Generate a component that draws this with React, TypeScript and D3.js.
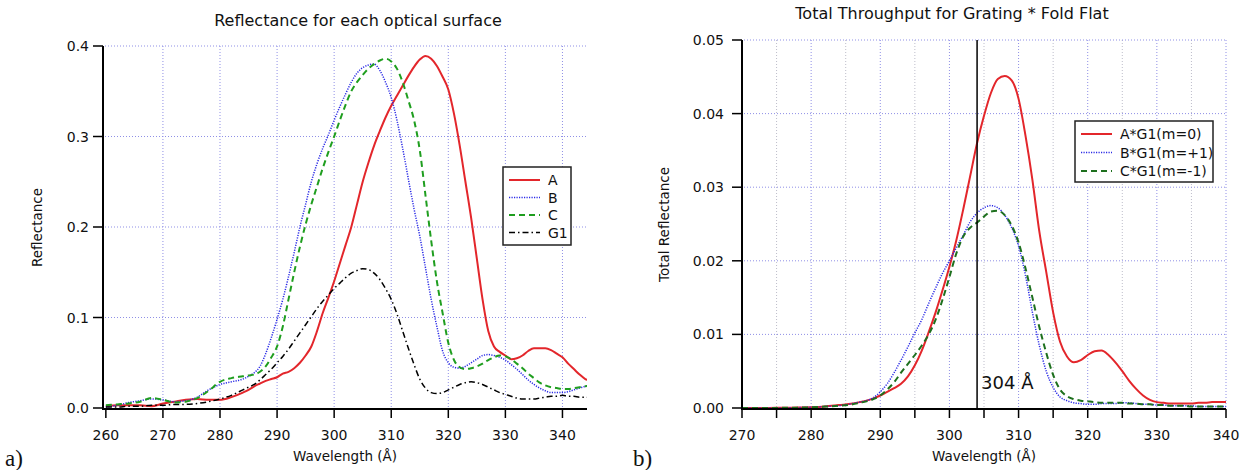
import * as d3 from 'd3';

// ---- panel a) reflectance of each surface ----
const waveLeft = [260, 262, 264, 266, 268, 270, 272, 274, 276, 278, 280, 282, 284,
  285, 286, 287, 288, 289, 290, 291, 292, 293, 294, 295, 296, 297, 298, 299, 300,
  301, 302, 303, 304, 305, 306, 307, 308, 309, 310, 311, 312, 313, 314, 315, 316,
  317, 318, 319, 320, 321, 322, 323, 324, 325, 326, 327, 328, 329, 330, 331, 332,
  333, 334, 335, 336, 337, 338, 339, 340, 341, 342, 343, 344, 345];

const reflA = [0.002, 0.003, 0.003, 0.003, 0.002, 0.005, 0.007, 0.009, 0.010, 0.009, 0.009, 0.012, 0.017,
  0.020, 0.024, 0.027, 0.030, 0.032, 0.034, 0.038, 0.040, 0.044, 0.050, 0.058, 0.068, 0.085, 0.105, 0.122, 0.140,
  0.160, 0.180, 0.200, 0.225, 0.250, 0.271, 0.290, 0.306, 0.321, 0.334, 0.345, 0.356, 0.367, 0.377, 0.385, 0.389,
  0.386, 0.378, 0.366, 0.352, 0.325, 0.290, 0.250, 0.210, 0.165, 0.120, 0.085, 0.068, 0.062, 0.058, 0.054, 0.055,
  0.058, 0.063, 0.066, 0.066, 0.066, 0.064, 0.060, 0.056, 0.049, 0.043, 0.037, 0.032, 0.030];

const reflB = [0.001, 0.003, 0.006, 0.008, 0.010, 0.009, 0.007, 0.008, 0.012, 0.020, 0.026, 0.029, 0.032,
  0.035, 0.039, 0.046, 0.060, 0.078, 0.098, 0.120, 0.145, 0.172, 0.200, 0.225, 0.250, 0.270, 0.287, 0.302, 0.318,
  0.333, 0.347, 0.360, 0.370, 0.376, 0.379, 0.380, 0.373, 0.360, 0.343, 0.318, 0.287, 0.253, 0.220, 0.190, 0.155,
  0.120, 0.090, 0.063, 0.050, 0.045, 0.044, 0.046, 0.050, 0.054, 0.058, 0.059, 0.058, 0.056, 0.053, 0.048, 0.043,
  0.037, 0.031, 0.026, 0.022, 0.019, 0.017, 0.017, 0.017, 0.018, 0.020, 0.022, 0.024, 0.025];

const reflC = [0.003, 0.004, 0.005, 0.007, 0.011, 0.009, 0.006, 0.007, 0.011, 0.019, 0.029, 0.033, 0.035,
  0.036, 0.037, 0.040, 0.046, 0.056, 0.068, 0.090, 0.120, 0.150, 0.178, 0.203, 0.225, 0.245, 0.265, 0.283, 0.300,
  0.318, 0.335, 0.350, 0.360, 0.368, 0.375, 0.380, 0.384, 0.386, 0.383, 0.375, 0.360, 0.340, 0.318, 0.285, 0.235,
  0.185, 0.140, 0.105, 0.072, 0.053, 0.045, 0.043, 0.044, 0.046, 0.049, 0.053, 0.056, 0.058, 0.057, 0.054, 0.049,
  0.044, 0.038, 0.033, 0.028, 0.025, 0.023, 0.022, 0.021, 0.021, 0.022, 0.023, 0.024, 0.025];

const reflG1 = [0.001, 0.001, 0.002, 0.002, 0.003, 0.003, 0.004, 0.004, 0.005, 0.007, 0.010, 0.014, 0.020,
  0.023, 0.026, 0.031, 0.037, 0.043, 0.050, 0.057, 0.065, 0.074, 0.083, 0.092, 0.101, 0.110, 0.118, 0.125, 0.132,
  0.138, 0.144, 0.149, 0.152, 0.154, 0.153, 0.149, 0.142, 0.132, 0.120, 0.104, 0.085, 0.066, 0.048, 0.032, 0.022,
  0.017, 0.016, 0.017, 0.020, 0.023, 0.026, 0.028, 0.029, 0.028, 0.026, 0.023, 0.020, 0.017, 0.015, 0.013, 0.011,
  0.010, 0.010, 0.010, 0.011, 0.012, 0.013, 0.013, 0.014, 0.013, 0.013, 0.012, 0.012, 0.011];

const leftXTicks = [260, 270, 280, 290, 300, 310, 320, 330, 340];
const leftYTicks = [0, 0.1, 0.2, 0.3, 0.4];

// ---- panel b) total throughput ----
const waveRight = [270, 272, 274, 276, 278, 280, 282, 284, 286,
  287, 288, 289, 290, 291, 292, 293, 294, 295, 296, 297, 298, 299, 300, 301, 302,
  303, 304, 305, 306, 307, 308, 309, 310, 311, 312, 313, 314, 315, 316, 317, 318,
  319, 320, 321, 322, 323, 324, 325, 326, 327, 328, 329, 330, 331, 332, 333, 334,
  335, 336, 337, 338, 339, 340];

const tputA = [0, 0, 0.00001, 0.00003, 0.00006, 0.0001, 0.0002, 0.0004, 0.0006,
  0.0008, 0.001, 0.0013, 0.0017, 0.0022, 0.0027, 0.0033, 0.0043, 0.0058, 0.0078, 0.0103, 0.013, 0.016, 0.0192,
  0.0228, 0.027, 0.0315, 0.036, 0.0397, 0.0428, 0.0447, 0.0451, 0.0445, 0.042, 0.037, 0.031, 0.024, 0.0185,
  0.013, 0.009, 0.007, 0.0062, 0.0065, 0.0072, 0.0077, 0.0078, 0.0072, 0.0062, 0.005, 0.0037, 0.0026, 0.0017,
  0.0011, 0.0008, 0.0007, 0.0006, 0.0006, 0.0006, 0.0006, 0.0007, 0.0007, 0.0008, 0.0008, 0.0008];

const tputB = [0, 0, 0.00001, 0.00002, 0.00005, 0.0001, 0.0002, 0.0003, 0.0006,
  0.0008, 0.001, 0.0014, 0.0022, 0.0033, 0.0048, 0.0065, 0.0083, 0.0102, 0.012, 0.0142, 0.0163, 0.0183, 0.02,
  0.0218, 0.0235, 0.0253, 0.0265, 0.0272, 0.0275, 0.0272, 0.0262, 0.0245, 0.022, 0.018, 0.013, 0.0085, 0.005,
  0.0028, 0.0015, 0.001, 0.0007, 0.0006, 0.0005, 0.0005, 0.0006, 0.0006, 0.0006, 0.0007, 0.0007, 0.0006, 0.0005,
  0.0005, 0.0004, 0.0004, 0.0003, 0.0003, 0.0003, 0.0003, 0.0002, 0.0002, 0.0002, 0.0002, 0.0002];

const tputC = [0, 0, 0.00001, 0.00002, 0.00005, 0.0001, 0.0002, 0.0003, 0.0005,
  0.0007, 0.0009, 0.0012, 0.0017, 0.0025, 0.0035, 0.0048, 0.006, 0.0072, 0.0085, 0.01, 0.012, 0.0147, 0.0178,
  0.021, 0.0233, 0.0245, 0.0252, 0.026, 0.0267, 0.0268, 0.0262, 0.0248, 0.0225, 0.019, 0.015, 0.011, 0.0075,
  0.0045, 0.0025, 0.0016, 0.0012, 0.001, 0.0009, 0.0008, 0.0007, 0.0007, 0.0007, 0.0007, 0.0006, 0.0006, 0.0005,
  0.0005, 0.0004, 0.0004, 0.0003, 0.0003, 0.0003, 0.0002, 0.0002, 0.0002, 0.0002, 0.0002, 0.0002];

const rightXTicks = [270, 280, 290, 300, 310, 320, 330, 340];
const rightXMinor = [275, 285, 295, 305, 315, 325, 335];
const rightYTicks = [0, 0.01, 0.02, 0.03, 0.04, 0.05];
const markerWave = 304;

const FONT = '"DejaVu Sans", Verdana, sans-serif';
const GRID = '#8f8fe6';
const GRID_MINOR = '#bdbdca';

type Series = { label: string; values: number[]; color: string; width: number; dash?: string };

const leftSeries: Series[] = [
  { label: 'A', values: reflA, color: '#e3262b', width: 2 },
  { label: 'B', values: reflB, color: '#2b2be6', width: 1.5, dash: '1.2,1.3' },
  { label: 'C', values: reflC, color: '#1f9e1f', width: 2, dash: '6,4' },
  { label: 'G1', values: reflG1, color: '#000', width: 1.5, dash: '6,3,1.5,3' },
];

const rightSeries: Series[] = [
  { label: 'A*G1(m=0)', values: tputA, color: '#e3262b', width: 2 },
  { label: 'B*G1(m=+1)', values: tputB, color: '#2b2be6', width: 1.5, dash: '1.2,1.3' },
  { label: 'C*G1(m=-1)', values: tputC, color: '#1e701e', width: 2, dash: '6,4' },
];

type PanelProps = {
  id: string;
  waves: number[];
  series: Series[];
  xDomain: [number, number];
  yDomain: [number, number];
  box: { left: number; right: number; top: number; bottom: number };
  xTicks: number[];
  xMinor?: number[];
  yTicks: number[];
  yFmt: (v: number) => string;
  yLabelRight: number;
  title: string;
  titlePos: [number, number];
  yLabel: string;
  yLabelX: number;
  legend: { x: number; y: number; w: number; h: number; lineW: number; rowH: number; fontSize: number };
  marker?: number;
};

function Panel(p: PanelProps) {
  const { left, right, top, bottom } = p.box;
  const x = d3.scaleLinear().domain(p.xDomain).range([left, right]);
  const y = d3.scaleLinear().domain(p.yDomain).range([bottom, top]);
  const line = d3.line<number>()
    .x((_, i) => x(p.waves[i]))
    .y(d => y(d))
    .curve(d3.curveMonotoneX);
  const axisY = bottom + 1;

  return (
    <g>
      <defs>
        <clipPath id={p.id}>
          <rect x={left} y={top - 2} width={right - left} height={bottom - top + 4} />
        </clipPath>
      </defs>

      {/* grid */}
      {(p.xMinor || []).map(t => (
        <line key={'m' + t} x1={x(t)} x2={x(t)} y1={top} y2={bottom}
          stroke={GRID_MINOR} strokeWidth={1} strokeDasharray="1,2" />
      ))}
      {p.xTicks.filter(t => x(t) > left + 4).map(t => (
        <line key={'gx' + t} x1={x(t)} x2={x(t)} y1={top} y2={bottom}
          stroke={GRID} strokeWidth={1} strokeDasharray="1,2" />
      ))}
      {p.yTicks.filter(t => t > 0).map(t => (
        <line key={'gy' + t} x1={left + 2} x2={right} y1={y(t)} y2={y(t)}
          stroke={GRID} strokeWidth={1} strokeDasharray="1,2" />
      ))}

      {/* curves */}
      <g clipPath={`url(#${p.id})`}>
        {p.series.map(s => (
          <path key={s.label} d={line(s.values) || ''} fill="none" stroke={s.color}
            strokeWidth={s.width} strokeDasharray={s.dash} strokeLinejoin="round" />
        ))}
      </g>

      {/* marker line */}
      {p.marker !== undefined && (
        <g>
          <line x1={x(p.marker)} x2={x(p.marker)} y1={axisY} y2={top} stroke="#000" strokeWidth={1.5} />
          <text x={x(p.marker) + 4} y={389} fontSize={18} fontFamily={FONT} fill="#111">{p.marker} Å</text>
        </g>
      )}

      {/* axes */}
      <line x1={left} x2={left} y1={top} y2={axisY + 1} stroke="#000" strokeWidth={2} />
      <line x1={left} x2={right} y1={axisY} y2={axisY} stroke="#000" strokeWidth={2} />
      {p.yTicks.map(t => (
        <g key={'ty' + t}>
          <line x1={left - 10} x2={left} y1={y(t)} y2={y(t)} stroke="#000" strokeWidth={1.5} />
          <text x={p.yLabelRight} y={y(t) + 5} textAnchor="end" fontSize={14} fontFamily={FONT} fill="#111">
            {p.yFmt(t)}
          </text>
        </g>
      ))}
      {p.xTicks.concat(p.xMinor || []).map(t => (
        <line key={'tx' + t} x1={x(t)} x2={x(t)} y1={axisY} y2={axisY + 9} stroke="#000" strokeWidth={1.5} />
      ))}
      {p.xTicks.map(t => (
        <text key={'lx' + t} x={x(t)} y={440} textAnchor="middle" fontSize={14} fontFamily={FONT} fill="#111">{t}</text>
      ))}

      {/* labels */}
      <text x={(left + right) / 2} y={461} textAnchor="middle" fontSize={13.5} fontFamily={FONT} fill="#111">
        Wavelength (Å)
      </text>
      <text transform={`translate(${p.yLabelX},${(top + axisY) / 2}) rotate(-90)`} textAnchor="middle"
        fontSize={13.5} fontFamily={FONT} fill="#111">{p.yLabel}</text>
      <text x={p.titlePos[0]} y={p.titlePos[1]} textAnchor="middle" fontSize={16} fontFamily={FONT} fill="#111">
        {p.title}
      </text>

      {/* legend */}
      <g>
        <rect x={p.legend.x} y={p.legend.y} width={p.legend.w} height={p.legend.h}
          fill="#fff" stroke="#222" strokeWidth={1.5} />
        {p.series.map((s, i) => {
          const cy = p.legend.y + 13 + i * p.legend.rowH;
          return (
            <g key={'lg' + s.label}>
              <line x1={p.legend.x + 6} x2={p.legend.x + 6 + p.legend.lineW} y1={cy} y2={cy}
                stroke={s.color} strokeWidth={s.width} strokeDasharray={s.dash} />
              <text x={p.legend.x + 14 + p.legend.lineW} y={cy + 5} fontSize={p.legend.fontSize}
                fontFamily={FONT} fill="#111">{s.label}</text>
            </g>
          );
        })}
      </g>
    </g>
  );
}

export default function App() {
  return (
    <svg width={1244} height={470} style={{ position: 'absolute', left: 0, top: 0, background: '#fff' }}>
      <rect width={1244} height={470} fill="#fff" />
      <Panel
        id="clipA"
        waves={waveLeft}
        series={leftSeries}
        xDomain={[259.5, 344.3]}
        yDomain={[0, 0.4]}
        box={{ left: 103, right: 587, top: 46, bottom: 408 }}
        xTicks={leftXTicks}
        yTicks={leftYTicks}
        yFmt={d3.format('.1f')}
        yLabelRight={89}
        title="Reflectance for each optical surface"
        titlePos={[358, 26]}
        yLabel="Reflectance"
        yLabelX={42}
        legend={{ x: 503, y: 167, w: 68, h: 78, lineW: 31, rowH: 17.5, fontSize: 14 }}
      />
      <Panel
        id="clipB"
        waves={waveRight}
        series={rightSeries}
        xDomain={[270, 340]}
        yDomain={[0, 0.05]}
        box={{ left: 742, right: 1226, top: 40, bottom: 408 }}
        xTicks={rightXTicks}
        xMinor={rightXMinor}
        yTicks={rightYTicks}
        yFmt={d3.format('.2f')}
        yLabelRight={724}
        title="Total Throughput for Grating * Fold Flat"
        titlePos={[952, 19]}
        yLabel="Total Reflectance"
        yLabelX={669}
        legend={{ x: 1075, y: 121, w: 138, h: 61, lineW: 31, rowH: 18.5, fontSize: 14 }}
        marker={markerWave}
      />
      <text x={5} y={466} fontSize={23} fontFamily='"Liberation Serif", "Times New Roman", serif' fill="#111">a)</text>
      <text x={633} y={466} fontSize={23} fontFamily='"Liberation Serif", "Times New Roman", serif' fill="#111">b)</text>
    </svg>
  );
}
